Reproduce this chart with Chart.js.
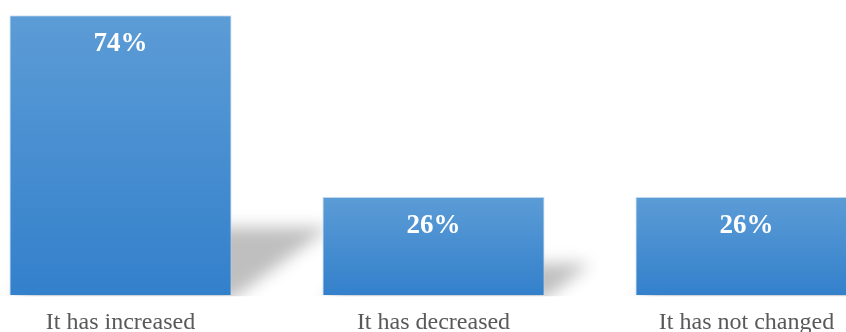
<!DOCTYPE html>
<html>
<head>
<meta charset="utf-8">
<script src="https://cdn.jsdelivr.net/npm/chart.js@4"></script>
<style>
  html, body { margin: 0; padding: 0; background: #fff; overflow: hidden; width: 846px; height: 332px; }
  #wrap { position: absolute; left: -36px; top: 0; width: 939px; height: 350px; }
</style>
</head>
<body>
<div id="wrap"><canvas id="chart"></canvas></div>
<script>
// --- data ---
const categories = ['It has increased', 'It has decreased', 'It has not changed'];
const shares = [74, 26, 26];

const serif = '"Liberation Serif", "Times New Roman", serif';

// vertical gradient per bar, from its own top to the baseline
function barGradient(context) {
    const chart = context.chart;
    const { ctx, chartArea, scales } = chart;
    if (!chartArea) return '#4a8fd2';
    const top = scales.y.getPixelForValue(context.raw);
    const bottom = scales.y.getPixelForValue(0);
    const g = ctx.createLinearGradient(0, top, 0, bottom);
    g.addColorStop(0, '#5c9cd6');
    g.addColorStop(1, '#3380cb');
    return g;
}

// soft perspective shadow behind each bar, leaning up to the right
const shadowPlugin = {
    id: 'barShadow',
    beforeDatasetsDraw(chart) {
        const ctx = chart.ctx;
        const area = chart.chartArea;
        const meta = chart.getDatasetMeta(0);
        ctx.save();
        // keep the blur from spilling under the baseline
        ctx.beginPath();
        ctx.rect(0, 0, chart.width, area.bottom + 1);
        ctx.clip();
        ctx.filter = 'blur(8px)';
        ctx.fillStyle = 'rgba(0,0,0,0.25)';
        meta.data.forEach(bar => {
            const { x, y, base, width } = bar.getProps(['x', 'y', 'base', 'width'], true);
            const xL = x - width / 2;
            const xR = x + width / 2;
            const h = (base - y) * 0.2 + 12;
            const s = h * 1.45;
            ctx.beginPath();
            ctx.moveTo(xL, base + 4);
            ctx.lineTo(xR, base + 4);
            ctx.lineTo(xR + s, base - h);
            ctx.lineTo(xL + s, base - h);
            ctx.closePath();
            ctx.fill();
        });
        ctx.restore();
    }
};

// percentage labels inside the bars
const valueLabels = {
    id: 'valueLabels',
    afterDatasetsDraw(chart) {
        const ctx = chart.ctx;
        const meta = chart.getDatasetMeta(0);
        ctx.save();
        ctx.font = 'bold 27px ' + serif;
        ctx.fillStyle = '#ffffff';
        ctx.textAlign = 'center';
        ctx.textBaseline = 'middle';
        meta.data.forEach((bar, i) => {
            ctx.fillText(shares[i] + '%', bar.x, bar.y + 29);
        });
        ctx.restore();
    }
};

new Chart(document.getElementById('chart'), {
    type: 'bar',
    data: {
        labels: categories,
        datasets: [{
            data: shares,
            backgroundColor: barGradient,
            borderColor: 'rgba(190,215,240,0.7)',
            borderWidth: 1,
            categoryPercentage: 1,
            barPercentage: 0.71
        }]
    },
    options: {
        responsive: true,
        maintainAspectRatio: false,
        animation: false,
        layout: { padding: 0 },
        plugins: {
            legend: { display: false },
            tooltip: { enabled: false }
        },
        scales: {
            x: {
                grid: { display: false, drawTicks: false },
                border: { display: false },
                ticks: {
                    color: '#595959',
                    padding: 13,
                    font: { family: serif, size: 24 }
                }
            },
            y: {
                display: false,
                min: 0,
                max: 78
            }
        }
    },
    plugins: [shadowPlugin, valueLabels]
});
</script>
</body>
</html>
